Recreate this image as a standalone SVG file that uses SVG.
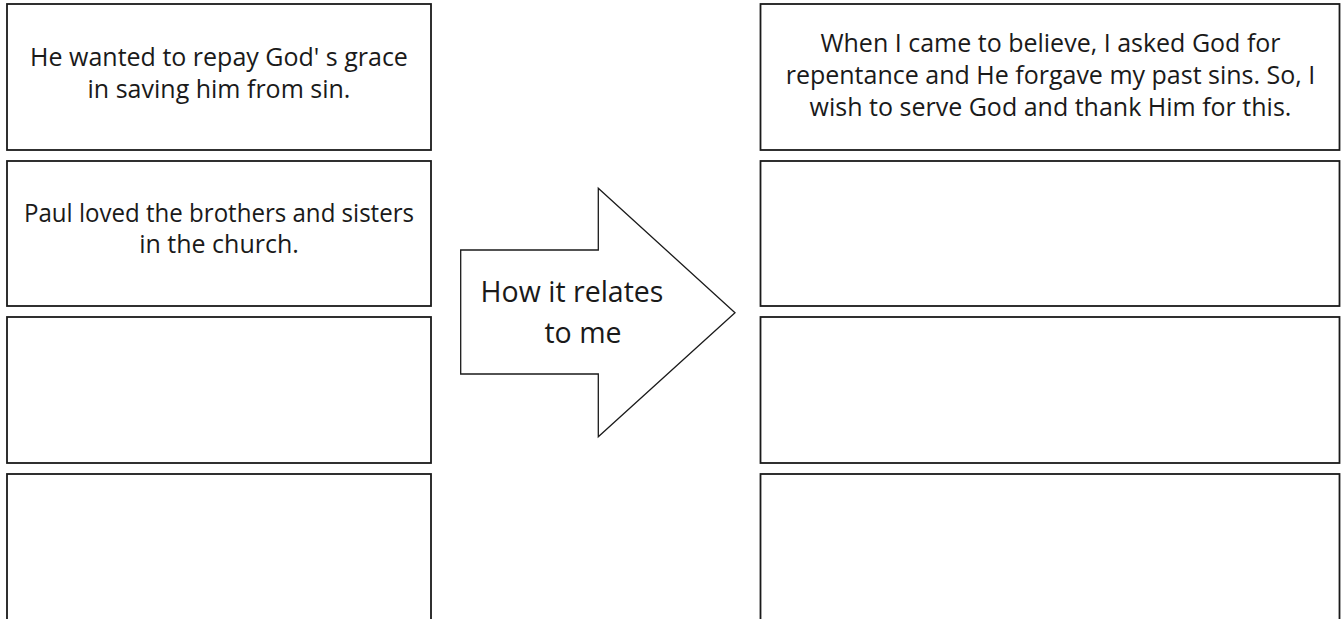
<svg xmlns="http://www.w3.org/2000/svg" width="1341" height="619" viewBox="0 0 1341 619">
<style>
.box{fill:#fff;stroke:#1a1a1a;stroke-width:1.8}
.arrow{fill:#fff;stroke:#1a1a1a;stroke-width:1.3;stroke-linejoin:miter}
.t{font-family:"Open Sans","Noto Sans","DejaVu Sans",sans-serif;font-size:25px;fill:#1a1a1a;text-anchor:middle}
.ta{font-family:"Open Sans","Noto Sans","DejaVu Sans",sans-serif;font-size:28.5px;fill:#1a1a1a;text-anchor:middle}
</style>
<rect width="1341" height="619" fill="#fff"/>
<g id="left1"><rect class="box" x="7" y="4" width="424" height="146"/>
<text class="t" x="219" y="65.7">He wanted to repay God' s grace</text>
<text class="t" x="219" y="97.5">in saving him from sin.</text></g>
<g id="left2"><rect class="box" x="7" y="161" width="424" height="145"/>
<text class="t" x="219" y="221.7" textLength="390" lengthAdjust="spacingAndGlyphs">Paul loved the brothers and sisters</text>
<text class="t" x="219" y="253">in the church.</text></g>
<g id="left3"><rect class="box" x="7" y="317" width="424" height="146"/></g>
<g id="left4"><rect class="box" x="7" y="474" width="424" height="160"/></g>
<g id="arrow"><path class="arrow" d="M460.7,250 H598.3 V188.3 L735,312.7 L598.3,436.7 V374 H460.7 Z"/>
<text class="ta" x="572" y="302.3">How it relates</text>
<text class="ta" x="583" y="343.3">to me</text></g>
<g id="right1"><rect class="box" x="760.5" y="4" width="579" height="146"/>
<text class="t" x="1050.5" y="52.3">When I came to believe, I asked God for</text>
<text class="t" x="1050.5" y="84">repentance and He forgave my past sins. So, I</text>
<text class="t" x="1050.5" y="115.7">wish to serve God and thank Him for this.</text></g>
<g id="right2"><rect class="box" x="760.5" y="161" width="579" height="145"/></g>
<g id="right3"><rect class="box" x="760.5" y="317" width="579" height="146"/></g>
<g id="right4"><rect class="box" x="760.5" y="474" width="579" height="160"/></g>
<g id="connectors"/>
</svg>
